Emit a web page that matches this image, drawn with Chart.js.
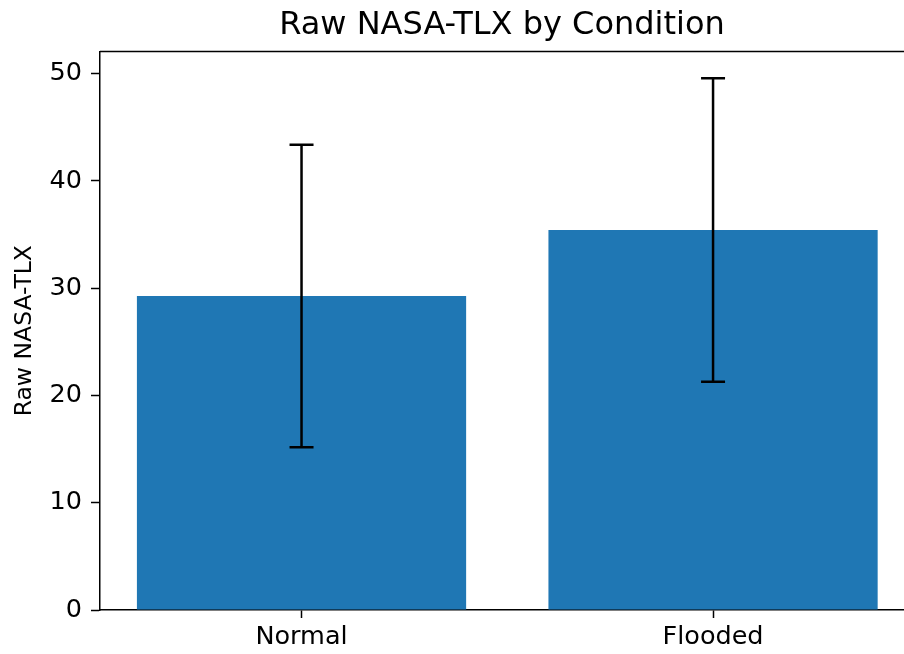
<!DOCTYPE html>
<html>
<head>
<meta charset="utf-8">
<script src="https://cdn.jsdelivr.net/npm/chart.js@4"></script>
<style>
  html, body { margin: 0; padding: 0; background: #fff; overflow: hidden; }
</style>
</head>
<body>
<canvas id="tlxChart" width="904" height="654"></canvas>
<script>
const conditions = ["Normal", "Flooded"];
const meanTlx = [29.26, 35.42];
const sdTlx = [14.1, 14.15];
const yTicks = [0, 10, 20, 30, 40, 50];

const barColor = "#1f77b4";
const fontFamily = "'DejaVu Sans', sans-serif";

// error bars + top spine, drawn after the bars
const errorBars = {
    id: "errorBars",
    afterDatasetsDraw(chart) {
        const ctx = chart.ctx;
        const x = chart.scales.x;
        const y = chart.scales.y;
        const area = chart.chartArea;

        ctx.save();
        ctx.strokeStyle = "#000";
        ctx.lineWidth = 2.5;
        meanTlx.forEach((m, i) => {
            const px = x.getPixelForValue(i);
            const top = y.getPixelForValue(m + sdTlx[i]);
            const bot = y.getPixelForValue(m - sdTlx[i]);
            ctx.beginPath();
            ctx.moveTo(px, top);
            ctx.lineTo(px, bot);
            ctx.moveTo(px - 12, top);
            ctx.lineTo(px + 12, top);
            ctx.moveTo(px - 12, bot);
            ctx.lineTo(px + 12, bot);
            ctx.stroke();
        });

        ctx.lineWidth = 1.5;
        ctx.beginPath();
        ctx.moveTo(area.left, area.top);
        ctx.lineTo(area.right, area.top);
        ctx.stroke();
        ctx.restore();
    }
};

new Chart(document.getElementById("tlxChart"), {
    type: "bar",
    data: {
        datasets: [
            {
                label: "Raw NASA-TLX",
                data: meanTlx.map((v, i) => ({ x: i, y: v })),
                backgroundColor: barColor,
                borderWidth: 0,
                categoryPercentage: 1.0,
                barPercentage: 0.8
            }
        ]
    },
    options: {
        responsive: false,
        animation: false,
        devicePixelRatio: 1,
        layout: { padding: 0 },
        plugins: {
            legend: { display: false },
            tooltip: { enabled: false },
            title: {
                display: true,
                text: "Raw NASA-TLX by Condition",
                color: "#000",
                fullSize: false,
                font: { family: fontFamily, size: 32, weight: "normal", lineHeight: 1.2 },
                padding: { top: 6, bottom: 7 }
            }
        },
        scales: {
            x: {
                type: "linear",
                offset: false,
                min: -0.4897,
                max: 1.464,
                afterFit: scale => { scale.height = 44; },
                afterBuildTicks: scale => {
                    scale.ticks = conditions.map((c, i) => ({ value: i }));
                },
                grid: {
                    offset: false,
                    drawOnChartArea: false,
                    drawTicks: true,
                    tickLength: 8,
                    tickWidth: 1.5,
                    tickColor: "#000"
                },
                border: { display: true, color: "#000", width: 1.5 },
                ticks: {
                    color: "#000",
                    padding: 4,
                    font: { family: fontFamily, size: 25.5 },
                    callback: value => conditions[value]
                }
            },
            y: {
                type: "linear",
                min: 0,
                max: 52.07,
                afterFit: scale => { scale.width = 100; },
                afterBuildTicks: scale => {
                    scale.ticks = yTicks.map(v => ({ value: v }));
                },
                grid: {
                    drawOnChartArea: false,
                    drawTicks: true,
                    tickLength: 9,
                    tickWidth: 1.5,
                    tickColor: "#000"
                },
                border: { display: true, color: "#000", width: 1.5 },
                ticks: {
                    color: "#000",
                    padding: 9,
                    font: { family: fontFamily, size: 25.5 }
                },
                title: {
                    display: true,
                    text: "Raw NASA-TLX",
                    color: "#000",
                    font: { family: fontFamily, size: 23.5 },
                    padding: { top: 11, bottom: 0 }
                }
            }
        }
    },
    plugins: [errorBars]
});
</script>
</body>
</html>
